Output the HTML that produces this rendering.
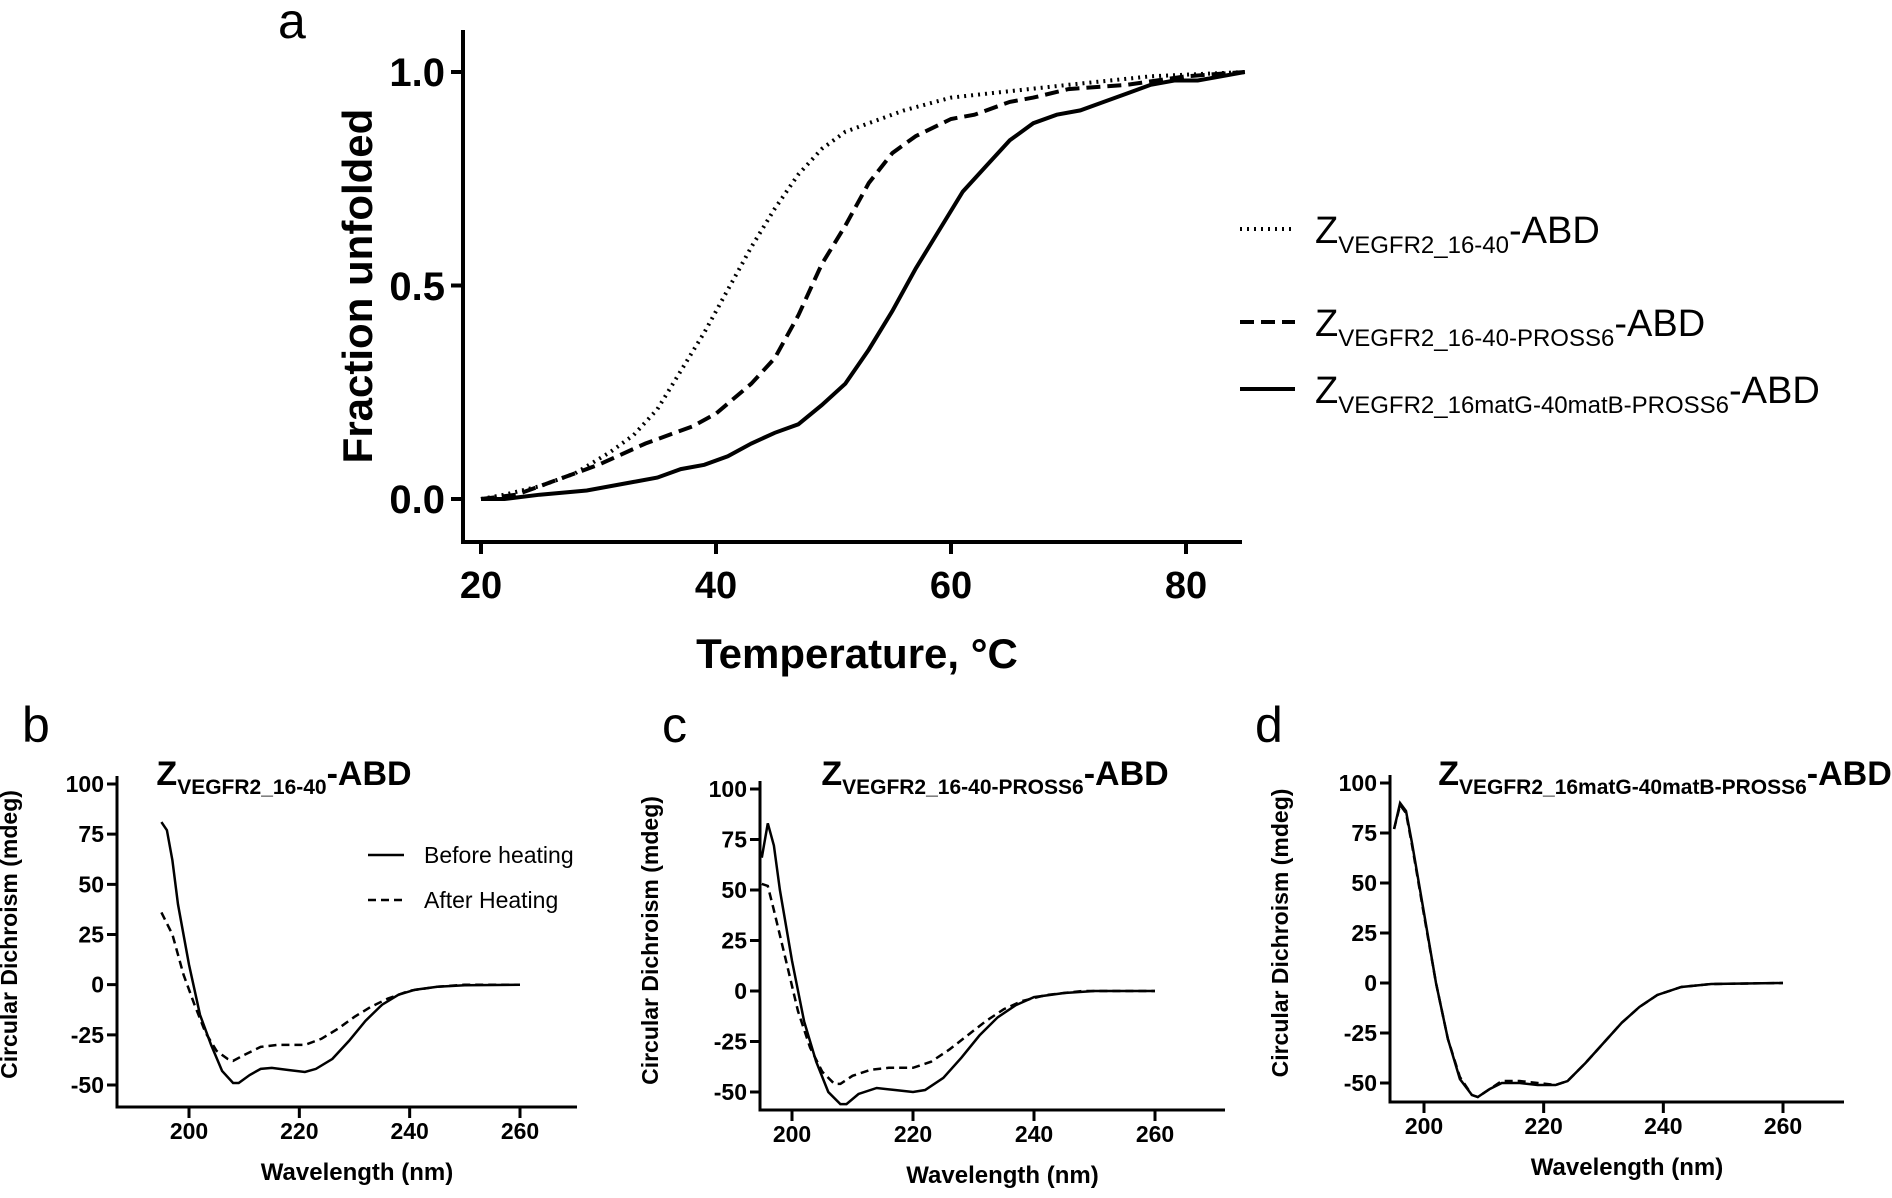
<!DOCTYPE html>
<html><head><meta charset="utf-8"><style>
html,body{margin:0;padding:0;background:#fff}
svg{display:block;font-family:"Liberation Sans",sans-serif}
</style></head><body>
<svg id="s" width="1892" height="1198" viewBox="0 0 1892 1198" xmlns="http://www.w3.org/2000/svg">
<g fill="#000">
<text x="278" y="38" font-size="50">a</text>
<text x="22" y="742" font-size="50">b</text>
<text x="662" y="742" font-size="50">c</text>
<text x="1255" y="742" font-size="50">d</text>
</g>
<g stroke="#000" stroke-width="4" fill="none">
<path d="M463,30 V544 M461,542 H1242"/>
<path d="M463,72 h-12 M463,285.5 h-12 M463,499 h-12"/>
<path d="M481,542 v12 M716,542 v12 M951,542 v12 M1186,542 v12"/>
</g>
<g font-weight="bold" font-size="40" text-anchor="end" fill="#000">
<text x="445" y="86">1.0</text><text x="445" y="300">0.5</text><text x="445" y="513">0.0</text>
</g>
<g font-weight="bold" font-size="38" text-anchor="middle" fill="#000">
<text x="481" y="598">20</text><text x="716" y="598">40</text><text x="951" y="598">60</text><text x="1186" y="598">80</text>
<text x="857" y="668" font-size="42">Temperature, °C</text>
<text transform="translate(372,286) rotate(-90)" font-size="42">Fraction unfolded</text>
</g>
<g stroke="#000" stroke-width="4">
<line x1="1240" y1="229" x2="1295" y2="229" stroke-dasharray="2,5" stroke-width="4"/>
<line x1="1240" y1="322" x2="1295" y2="322" stroke-dasharray="14,7"/>
<line x1="1240" y1="389" x2="1295" y2="389"/>
</g>
<g font-size="38" fill="#000">
<text x="1315" y="243">Z<tspan font-size="24" dy="10">VEGFR2_16-40</tspan><tspan dy="-10">-ABD</tspan></text>
<text x="1315" y="336">Z<tspan font-size="24" dy="10">VEGFR2_16-40-PROSS6</tspan><tspan dy="-10">-ABD</tspan></text>
<text x="1315" y="403">Z<tspan font-size="24" dy="10">VEGFR2_16matG-40matB-PROSS6</tspan><tspan dy="-10">-ABD</tspan></text>
</g>
<g id="cd"></g>
<g stroke="#000" stroke-width="2.5">
<line x1="368" y1="855" x2="404" y2="855"/>
<line x1="368" y1="900" x2="404" y2="900" stroke-dasharray="8,5"/>
</g>
<g font-size="23" fill="#000">
<text x="424" y="863">Before heating</text>
<text x="424" y="908">After Heating</text>
</g>
</svg>
<script>
var NS="http://www.w3.org/2000/svg";
function el(p,t,a,txt){var e=document.createElementNS(NS,t);for(var k in a)e.setAttribute(k,a[k]);if(txt!==undefined)e.textContent=txt;p.appendChild(e);return e;}
var s=document.getElementById('s');
function ax(T){return 481+(T-20)*(1186-481)/60;}
function ay(f){return 499-f*(499-72);}
function path(pts,fx,fy){return pts.map(function(p,i){return (i?'L':'M')+fx(p[0]).toFixed(1)+','+fy(p[1]).toFixed(1);}).join(' ');}
var dot=[[20,0],[22,0.01],[25,0.03],[28,0.06],[31,0.11],[33,0.15],[35,0.21],[37,0.30],[39,0.39],[41,0.49],[43,0.59],[45,0.68],[47,0.76],[49,0.82],[51,0.86],[53,0.88],[56,0.91],[60,0.94],[65,0.955],[70,0.97],[77,0.99],[85,1.0]];
var dash=[[20,0],[23,0.01],[26,0.04],[30,0.08],[34,0.13],[38,0.17],[40,0.2],[43,0.27],[45,0.33],[47,0.43],[49,0.55],[51,0.64],[53,0.74],[55,0.81],[57,0.85],[60,0.89],[62,0.9],[65,0.93],[67,0.94],[70,0.96],[75,0.97],[80,0.99],[85,1.0]];
var sol=[[20,0],[22,0],[25,0.01],[29,0.02],[33,0.04],[35,0.05],[37,0.07],[39,0.08],[41,0.1],[43,0.13],[45,0.155],[47,0.175],[49,0.22],[51,0.27],[53,0.35],[55,0.44],[57,0.54],[59,0.63],[61,0.72],[63,0.78],[65,0.84],[67,0.88],[69,0.90],[71,0.91],[73,0.93],[75,0.95],[77,0.97],[79,0.98],[81,0.98],[83,0.99],[85,1.0]];
el(s,'path',{d:path(dot,ax,ay),fill:'none',stroke:'#000','stroke-width':4,'stroke-dasharray':'2,5'});
el(s,'path',{d:path(dash,ax,ay),fill:'none',stroke:'#000','stroke-width':4,'stroke-dasharray':'14,7'});
el(s,'path',{d:path(sol,ax,ay),fill:'none',stroke:'#000','stroke-width':4});
var panels=[
 {axX:117,x200:189,x260:520,end:577,y100:784,ym50:1085,axY:1107,title:284,sub:'VEGFR2_16-40',ylab:17,
  a:[[195,81],[196,77],[197,62],[198,40],[200,10],[202,-15],[204,-30],[206,-43],[208,-49],[209,-49],[211,-45],[213,-42],[215,-41.5],[218,-42.5],[221,-43.5],[223,-42],[226,-37],[229,-28],[232,-18],[235,-10],[238,-5],[241,-2.5],[245,-1],[250,-0.3],[260,0]],
  b:[[195,36],[197,25],[199,5],[201,-10],[203,-24],[205,-33],[207,-37],[208,-38],[210,-35],[213,-31],[216,-30],[221,-30],[224,-27],[227,-22],[230,-16],[233,-11],[236,-7],[240,-3],[245,-1],[250,0],[260,0]]},
 {axX:760,x200:792,x260:1155,end:1225,y100:789,ym50:1092,axY:1110,title:995,sub:'VEGFR2_16-40-PROSS6',ylab:658,
  a:[[195,66],[196,83],[197,72],[198,50],[200,15],[202,-15],[204,-35],[206,-50],[208,-56],[209,-56],[211,-51],[214,-48],[217,-49],[220,-50],[222,-49],[225,-43],[228,-33],[231,-22],[234,-13],[237,-7],[240,-3],[245,-1],[250,0],[260,0]],
  b:[[195,53],[196,52],[197,40],[199,15],[201,-10],[203,-28],[205,-40],[207,-46],[208,-46],[210,-42],[213,-39],[216,-38],[220,-38],[223,-35],[226,-29],[229,-22],[232,-15],[235,-9],[238,-5],[242,-2],[248,0],[260,0]]},
 {axX:1390,x200:1424,x260:1783,end:1844,y100:783,ym50:1083,axY:1102,title:1665,sub:'VEGFR2_16matG-40matB-PROSS6',ylab:1288,
  a:[[195,77],[196,90],[197,86],[198,70],[200,35],[202,0],[204,-28],[206,-48],[208,-56],[209,-57],[211,-53],[213,-50],[216,-50],[219,-51],[222,-51],[224,-49],[227,-40],[230,-30],[233,-20],[236,-12],[239,-6],[243,-2],[248,-0.5],[260,0]],
  b:[[195,77],[196,89],[197,85],[198,69],[200,34],[202,0],[204,-28],[206,-47],[208,-56],[209,-57],[211,-53],[213,-49],[216,-49],[219,-50],[222,-51],[224,-49],[227,-40],[230,-30],[233,-20],[236,-12],[239,-6],[243,-2],[248,-0.5],[260,0]]}
];
var g=document.getElementById('cd');
panels.forEach(function(P){
 var fx=function(w){return P.x200+(w-200)*(P.x260-P.x200)/60;};
 var cy=function(v){return P.y100+(100-v)*(P.ym50-P.y100)/150;};
 var d='M'+P.axX+','+(P.y100-8)+' V'+(P.axY+1.5)+' M'+(P.axX-1.5)+','+P.axY+' H'+P.end;
 [100,75,50,25,0,-25,-50].forEach(function(v){d+=' M'+P.axX+','+cy(v)+' h-10';
   el(g,'text',{x:P.axX-13,y:cy(v)+8,'font-size':23,'font-weight':'bold','text-anchor':'end'},String(v));});
 [200,220,240,260].forEach(function(w){d+=' M'+fx(w)+','+P.axY+' v11';
   el(g,'text',{x:fx(w),y:P.axY+32,'font-size':23,'font-weight':'bold','text-anchor':'middle'},String(w));});
 el(g,'path',{d:d,stroke:'#000','stroke-width':3,fill:'none'});
 var xm=(P.axX+P.end)/2+10;
 el(g,'text',{x:xm,y:P.axY+73,'font-size':24,'font-weight':'bold','text-anchor':'middle'},'Wavelength (nm)');
 el(g,'text',{transform:'translate('+P.ylab+','+((P.y100+P.ym50)/2)+') rotate(-90)','font-size':23,'font-weight':'bold','text-anchor':'middle'},'Circular Dichroism (mdeg)');
 var t=el(g,'text',{x:P.title,y:785,'font-size':34,'font-weight':'bold','text-anchor':'middle'});
 t.appendChild(document.createTextNode('Z'));
 el(t,'tspan',{'font-size':21,dy:9},P.sub);
 el(t,'tspan',{dy:-9},'-ABD');
 el(g,'path',{d:path(P.b,fx,cy),fill:'none',stroke:'#000','stroke-width':2.5,'stroke-dasharray':'8,5'});
 el(g,'path',{d:path(P.a,fx,cy),fill:'none',stroke:'#000','stroke-width':2.5});
});
</script>
</body></html>
